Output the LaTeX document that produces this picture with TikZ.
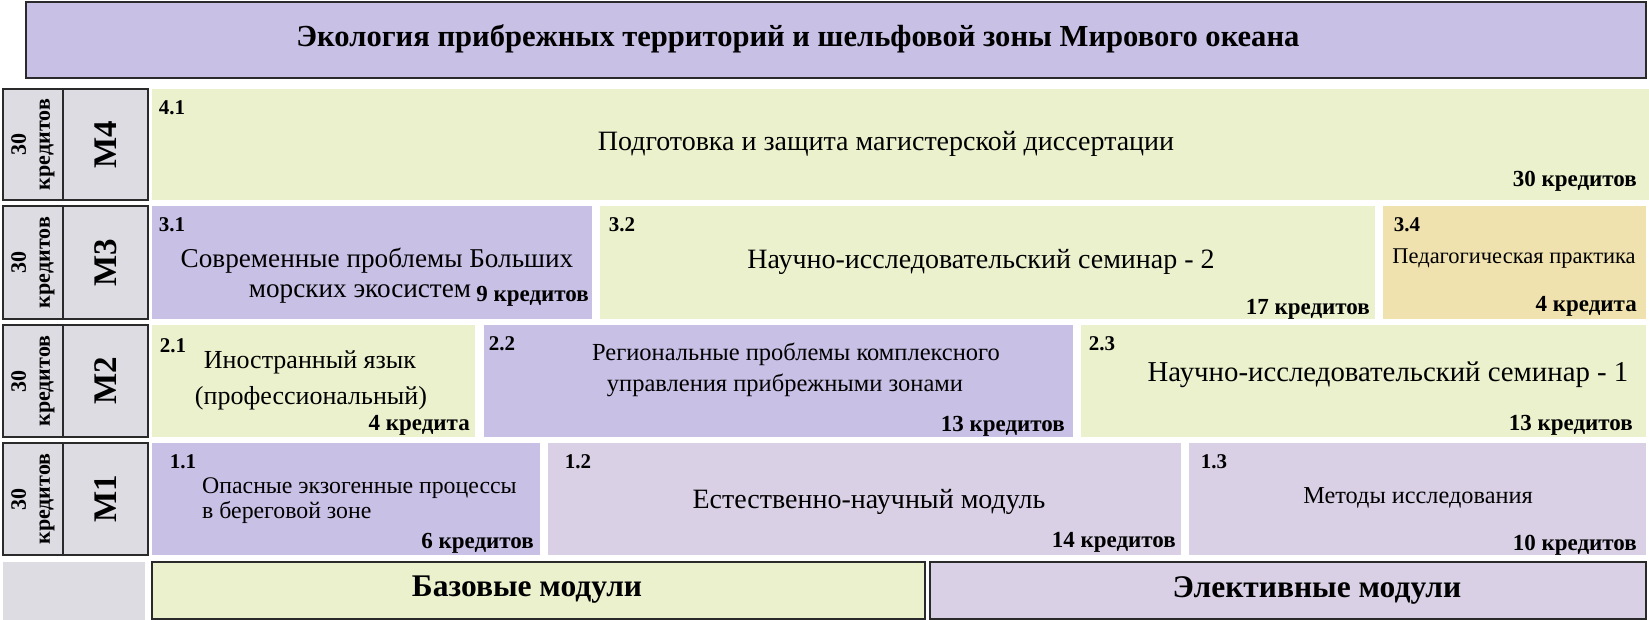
\documentclass[tikz,border=0pt]{standalone}
\usepackage{fontspec}
\setmainfont{Liberation Serif}
\definecolor{lav}{HTML}{C8C0E5}
\definecolor{grn}{HTML}{EBF1CD}
\definecolor{lil}{HTML}{D9D0E6}
\definecolor{tanc}{HTML}{F0E2AE}
\definecolor{gry}{HTML}{DEDCE3}
\definecolor{edgec}{HTML}{2A2A2A}
\newcommand{\cellbox}[6]{\node[cell,#6,minimum width={(#4-#2)*1pt},minimum height={(#5-#3)*1pt}] (#1) at (#2,#3) {};}
\begin{document}
\begin{tikzpicture}[x=1pt,y=-1pt,
  cell/.style={rectangle,inner sep=0pt,outer sep=0pt,anchor=north west},
  framed/.style={draw=edgec,line width=2.2pt},
  ttl/.style={font=\fontsize{30.6}{34}\selectfont\bfseries,inner sep=0pt},
  mlab/.style={font=\fontsize{33}{36}\selectfont\bfseries,inner sep=0pt,rotate=90},
  klab/.style={font=\fontsize{22}{24}\selectfont\bfseries,inner sep=0pt,rotate=90,align=center},
  num/.style={font=\fontsize{21}{24}\selectfont\bfseries,inner sep=0pt},
  txt/.style={font=\fontsize{28}{32}\selectfont,inner sep=0pt},
  cred/.style={font=\fontsize{23}{26}\selectfont\bfseries,inner sep=0pt,anchor=east},
  bot/.style={font=\fontsize{31.5}{34}\selectfont\bfseries,inner sep=0pt}]
\useasboundingbox (0,0) rectangle (1649,620);
% title
\cellbox{title}{26}{2}{1646}{78}{fill=lav,framed}
\node[ttl] (titletext) at (798,39) {Экология прибрежных территорий и шельфовой зоны Мирового океана};
% left columns
\cellbox{k4}{3}{89}{63}{200}{fill=gry,framed}
\cellbox{m4}{63}{89}{148}{200}{fill=gry,framed}
\cellbox{k3}{3}{206}{63}{319}{fill=gry,framed}
\cellbox{m3}{63}{206}{148}{319}{fill=gry,framed}
\cellbox{k2}{3}{325}{63}{437}{fill=gry,framed}
\cellbox{m2}{63}{325}{148}{437}{fill=gry,framed}
\cellbox{k1}{3}{443}{63}{555}{fill=gry,framed}
\cellbox{m1}{63}{443}{148}{555}{fill=gry,framed}
\cellbox{g0}{3}{562}{145}{620}{fill=gry}
\node[klab] (k4t) at (k4.center) {30\\кредитов};
\node[klab] (k3t) at (k3.center) {30\\кредитов};
\node[klab] (k2t) at (k2.center) {30\\кредитов};
\node[klab] (k1t) at (k1.center) {30\\кредитов};
\node[mlab] (m4t) at (m4.center) {M4};
\node[mlab] (m3t) at (m3.center) {M3};
\node[mlab] (m2t) at (m2.center) {M2};
\node[mlab] (m1t) at (m1.center) {M1};
% row 4
\cellbox{b41}{152}{89}{1649}{200}{fill=grn}
\node[num] (n41) at (172,108) {4.1};
\node[txt] (t41) at (886,144) {Подготовка и защита магистерской диссертации};
\node[cred] (c41) at (1637,181) {30 кредитов};
% row 3
\cellbox{b31}{152}{206}{592}{319}{fill=lav}
\cellbox{b32}{600}{206}{1375}{319}{fill=grn}
\cellbox{b34}{1383}{206}{1646}{319}{fill=tanc}
\node[num] (n31) at (172,225) {3.1};
\node[font=\fontsize{27.2}{30}\selectfont,inner sep=0pt] (t31a) at (377,261) {Современные проблемы Больших};
\node[font=\fontsize{27.2}{30}\selectfont,inner sep=0pt] (t31b) at (360,294) {морских экосистем};
\node[cred] (c31) at (589,296) {9 кредитов};
\node[num] (n32) at (622,225) {3.2};
\node[txt] (t32) at (981,262) {Научно-исследовательский семинар - 2};
\node[cred] (c32) at (1370,309) {17 кредитов};
\node[num] (n34) at (1407,225) {3.4};
\node[font=\fontsize{22.5}{26}\selectfont,inner sep=0pt] (t34) at (1514,259) {Педагогическая практика};
\node[cred] (c34) at (1637,306) {4 кредита};
% row 2
\cellbox{b21}{152}{325}{475}{437}{fill=grn}
\cellbox{b22}{484}{325}{1073}{437}{fill=lav}
\cellbox{b23}{1081}{325}{1646}{437}{fill=grn}
\node[num] (n21) at (173,346) {2.1};
\node[font=\fontsize{26}{29}\selectfont,inner sep=0pt] (t21a) at (310,362) {Иностранный язык};
\node[font=\fontsize{26}{29}\selectfont,inner sep=0pt] (t21b) at (311,398) {(профессиональный)};
\node[cred] (c21) at (470,425) {4 кредита};
\node[num] (n22) at (502,344) {2.2};
\node[font=\fontsize{24.5}{28}\selectfont,inner sep=0pt] (t22a) at (796,354) {Региональные проблемы комплексного};
\node[font=\fontsize{24.5}{28}\selectfont,inner sep=0pt] (t22b) at (785,385) {управления прибрежными зонами};
\node[cred] (c22) at (1065,426) {13 кредитов};
\node[num] (n23) at (1102,344) {2.3};
\node[font=\fontsize{28.8}{32}\selectfont,inner sep=0pt] (t23) at (1388,375) {Научно-исследовательский семинар - 1};
\node[cred] (c23) at (1633,425) {13 кредитов};
% row 1
\cellbox{b11}{152}{443}{540}{555}{fill=lav}
\cellbox{b12}{548}{443}{1181}{555}{fill=lil}
\cellbox{b13}{1189}{443}{1646}{555}{fill=lil}
\node[num] (n11) at (183,462) {1.1};
\node[font=\fontsize{23.8}{27}\selectfont,inner sep=0pt,anchor=west] (t11a) at (202,488) {Опасные экзогенные процессы};
\node[font=\fontsize{23.8}{27}\selectfont,inner sep=0pt,anchor=west] (t11b) at (202,513) {в береговой зоне};
\node[cred] (c11) at (534,543) {6 кредитов};
\node[num] (n12) at (578,462) {1.2};
\node[txt] (t12) at (869,502) {Естественно-научный модуль};
\node[cred] (c12) at (1176,542) {14 кредитов};
\node[num] (n13) at (1214,462) {1.3};
\node[font=\fontsize{24.3}{28}\selectfont,inner sep=0pt] (t13) at (1418,498) {Методы исследования};
\node[cred] (c13) at (1637,545) {10 кредитов};
% bottom
\cellbox{base}{152}{562}{925}{619}{fill=grn,framed}
\cellbox{elec}{930}{562}{1646}{619}{fill=lil,framed}
\node[bot] (baset) at (527,590) {Базовые модули};
\node[bot] (elect) at (1317,590) {Элективные модули};
\end{tikzpicture}
\end{document}
